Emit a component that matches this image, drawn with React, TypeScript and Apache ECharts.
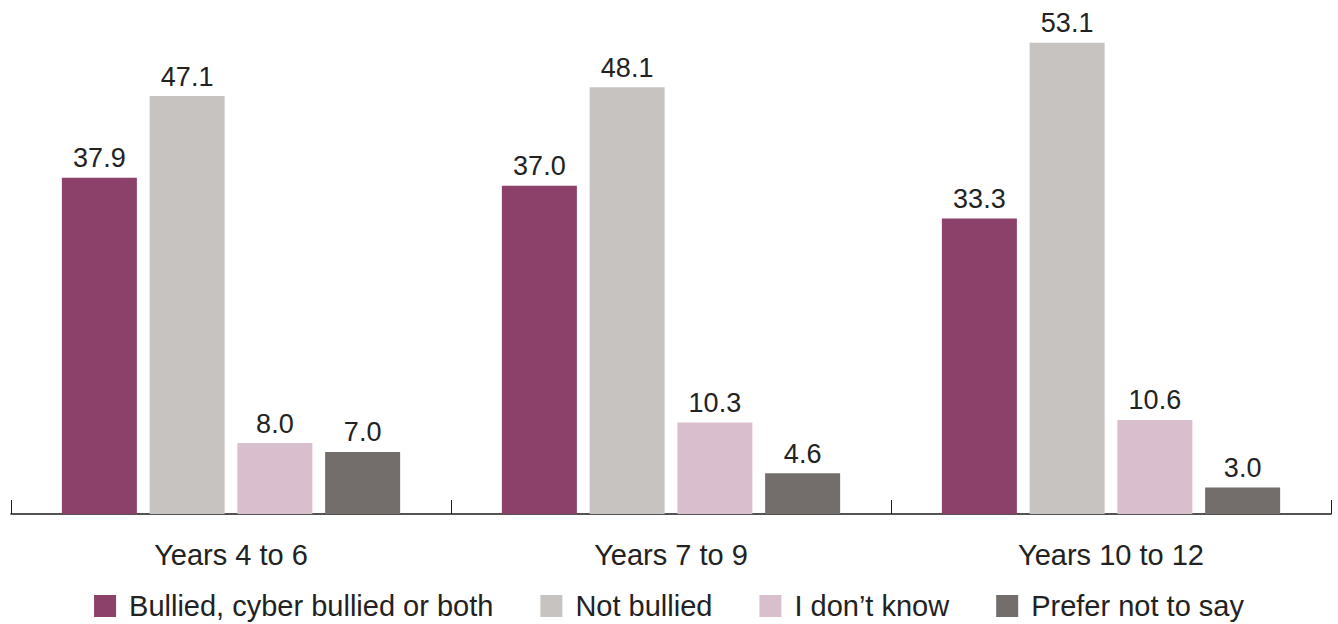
import React, { useEffect, useRef } from "react";
import * as echarts from "echarts";

const categories = ["Years 4 to 6", "Years 7 to 9", "Years 10 to 12"];
const seriesNames = ["Bullied, cyber bullied or both", "Not bullied", "I don\u2019t know", "Prefer not to say"];
const bullied = [37.9, 37.0, 33.3];
const notBullied = [47.1, 48.1, 53.1];
const dontKnow = [8.0, 10.3, 10.6];
const preferNot = [7.0, 4.6, 3.0];
const colors = ["#8B4169", "#C7C3C0", "#D9BFCD", "#736E6B"];

const FONT = "Liberation Sans";

export default function App() {
  const ref = useRef<HTMLDivElement>(null);
  useEffect(() => {
    if (!ref.current) return;
    const chart = echarts.init(ref.current, undefined, { renderer: "svg" });
    const data = [bullied, notBullied, dontKnow, preferNot];
    chart.setOption({
      animation: false,
      textStyle: { fontFamily: FONT },
      grid: { left: 11, right: 7, top: 26, bottom: 110 },
      legend: {
        top: 586,
        left: "center",
        itemWidth: 22,
        itemHeight: 22,
        itemGap: 47,
        icon: "rect",
        textStyle: { fontSize: 29, lineHeight: 30, color: "#222222", fontFamily: FONT, padding: [0, 0, 0, 8] },
        data: seriesNames,
      },
      xAxis: {
        type: "category",
        data: categories,
        axisLine: { lineStyle: { color: "#1a1a1a", width: 1.5 } },
        axisTick: { show: true, inside: true, length: 14, lineStyle: { color: "#1a1a1a", width: 1 } },
        axisLabel: { fontSize: 29, color: "#222222", margin: 26, fontFamily: FONT },
      },
      yAxis: {
        type: "value",
        min: 0,
        max: 55,
        show: false,
        splitLine: { show: false },
      },
      series: seriesNames.map((name, i) => ({
        name,
        type: "bar",
        data: data[i],
        barWidth: 75,
        barGap: "17%",
        itemStyle: { color: colors[i] },
        label: {
          show: true,
          position: "top",
          distance: 6,
          fontSize: 27,
          color: "#222222",
          fontFamily: FONT,
          formatter: (p: any) => Number(p.value).toFixed(1),
        },
      })),
    });
    return () => chart.dispose();
  }, []);
  return <div ref={ref} style={{ width: 1338, height: 624, position: "absolute", left: 0, top: 0 }} />;
}
